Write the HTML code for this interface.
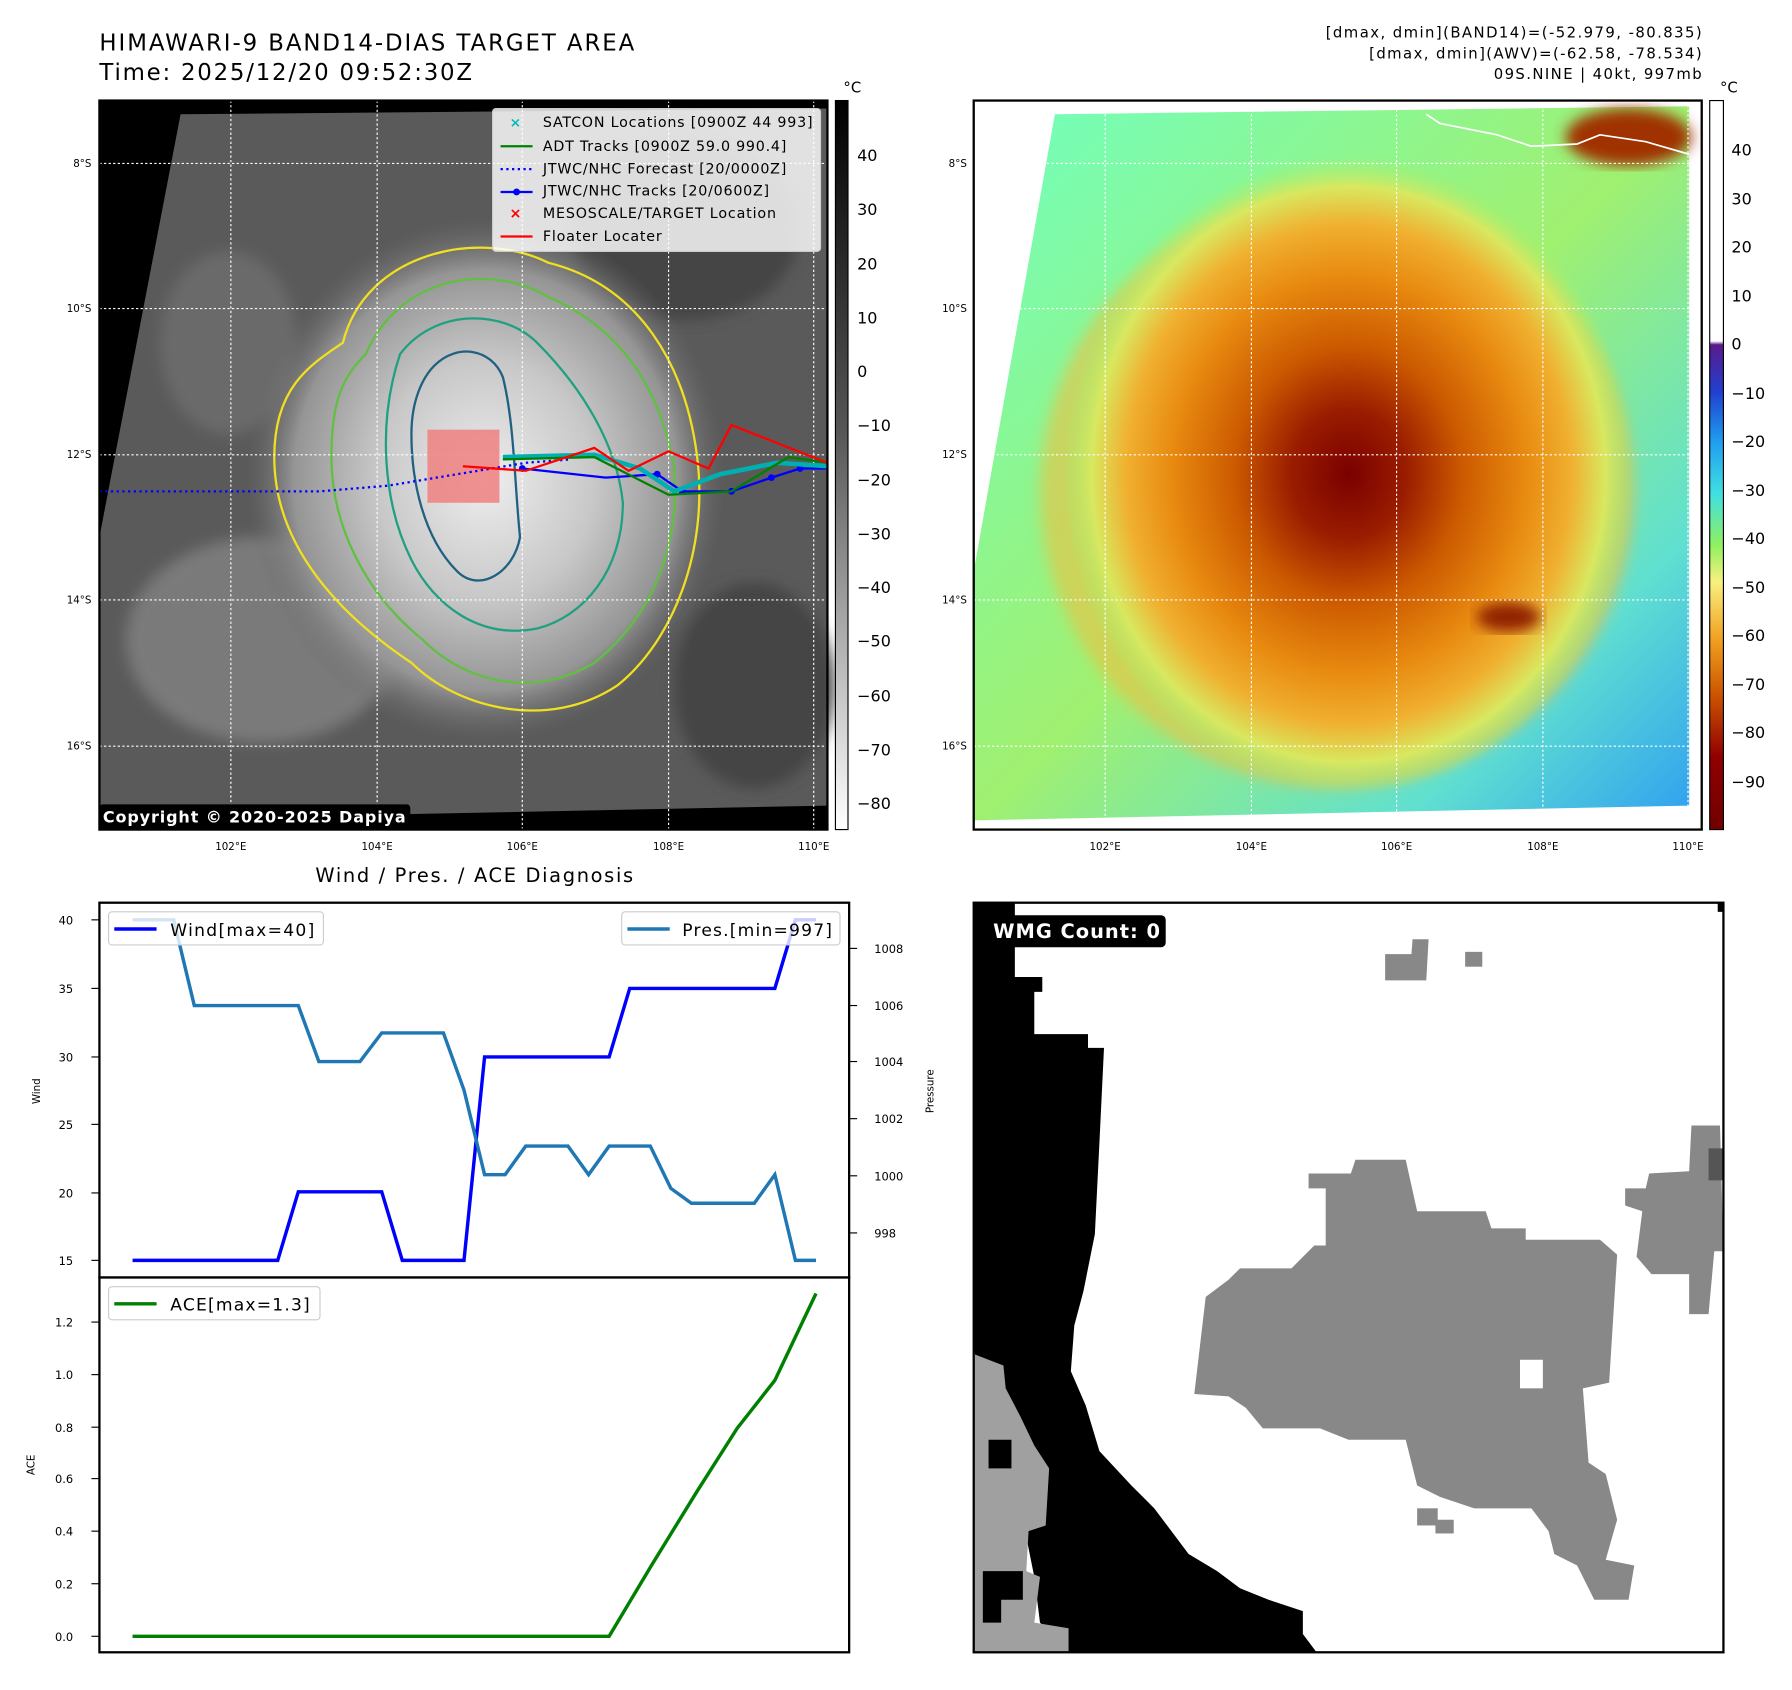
<!DOCTYPE html>
<html><head><meta charset="utf-8"><style>
html,body{margin:0;padding:0;background:#fff;}
svg{display:block;font-family:"DejaVu Sans","Liberation Sans",sans-serif;}
</style></head><body>
<svg width="1792" height="1690" viewBox="0 0 1568 1479" preserveAspectRatio="none" xmlns="http://www.w3.org/2000/svg">
<defs>
<radialGradient id="gcore" cx="0.5" cy="0.5" r="0.5">
<stop offset="0" stop-color="#eeeeee"/><stop offset="0.45" stop-color="#c8c8c8"/><stop offset="0.8" stop-color="#959595"/><stop offset="1" stop-color="#6a6a6a" stop-opacity="0"/>
</radialGradient>
<radialGradient id="ccore" cx="0.5" cy="0.5" r="0.5">
<stop offset="0" stop-color="#7a0000"/><stop offset="0.2" stop-color="#9a1c00"/><stop offset="0.4" stop-color="#cc5a00"/><stop offset="0.62" stop-color="#e88a10"/><stop offset="0.78" stop-color="#f0b030"/><stop offset="0.9" stop-color="#d8e860"/><stop offset="1" stop-color="#a0f070" stop-opacity="0"/>
</radialGradient>
<linearGradient id="bgcol" x1="0" y1="0" x2="1" y2="1">
<stop offset="0" stop-color="#70ffc0"/><stop offset="0.5" stop-color="#a0f070"/><stop offset="0.8" stop-color="#60e0d0"/><stop offset="1" stop-color="#30a0f0"/>
</linearGradient>
<linearGradient id="cbl" x1="0" y1="0" x2="0" y2="1">
<stop offset="0" stop-color="#000"/><stop offset="0.45" stop-color="#555"/><stop offset="1" stop-color="#fff"/>
</linearGradient>
<linearGradient id="cbr" x1="0" y1="0" x2="0" y2="1">
<stop offset="0" stop-color="#fff"/><stop offset="0.33" stop-color="#fff"/><stop offset="0.335" stop-color="#5a1a8a"/><stop offset="0.4" stop-color="#2040d0"/><stop offset="0.47" stop-color="#20a0f0"/><stop offset="0.54" stop-color="#40e0e0"/><stop offset="0.61" stop-color="#90f060"/><stop offset="0.66" stop-color="#f8f080"/><stop offset="0.74" stop-color="#f0a020"/><stop offset="0.82" stop-color="#c85000"/><stop offset="0.9" stop-color="#900000"/><stop offset="1" stop-color="#700000"/>
</linearGradient>
<filter id="blur"><feGaussianBlur stdDeviation="6"/></filter>
</defs>

<text x="87" y="44" font-size="20" textLength="468">HIMAWARI-9 BAND14-DIAS TARGET AREA</text>
<text x="87" y="70" font-size="20" textLength="326">Time: 2025/12/20 09:52:30Z</text>
<text x="1489" y="33" font-size="13" text-anchor="end" textLength="329">[dmax, dmin](BAND14)=(-52.979, -80.835)</text>
<text x="1489" y="51" font-size="13" text-anchor="end" textLength="291">[dmax, dmin](AWV)=(-62.58, -78.534)</text>
<text x="1489" y="69" font-size="13" text-anchor="end" textLength="182">09S.NINE | 40kt, 997mb</text>

<!-- LEFT MAP -->
<rect x="87" y="88" width="637" height="638" fill="#000"/>
<polygon points="158,100 724,95 724,705 87,718 87,470" fill="#5a5a5a"/>
<g filter="url(#blur)">
<ellipse cx="230" cy="560" rx="120" ry="90" fill="#7a7a7a"/>
<ellipse cx="600" cy="200" rx="100" ry="80" fill="#444"/>
<ellipse cx="200" cy="300" rx="60" ry="80" fill="#6a6a6a"/>
<ellipse cx="660" cy="600" rx="70" ry="90" fill="#444"/>
</g>
<ellipse cx="425" cy="420" rx="210" ry="230" fill="url(#gcore)"/>
<path d="M300,300 C320,220 420,200 480,230 C560,250 600,320 610,400 C620,480 590,560 540,600 C480,640 400,620 360,580 C300,540 240,480 240,400 C240,340 270,320 300,300Z" fill="none" stroke="#f0e020" stroke-width="2"/>
<path d="M320,310 C350,240 430,230 480,260 C550,290 580,350 590,410 C595,480 570,540 520,580 C470,610 410,600 370,560 C320,520 290,460 290,400 C290,350 300,330 320,310Z" fill="none" stroke="#60c040" stroke-width="2"/>
<path d="M350,310 C380,270 440,270 470,300 C510,340 540,390 545,440 C545,500 510,540 470,550 C420,560 380,530 360,490 C335,440 330,370 350,310Z" fill="none" stroke="#20a080" stroke-width="2"/>
<path d="M380,320 C400,300 430,305 440,330 C450,370 450,420 455,470 C450,500 420,520 400,500 C370,470 360,420 360,380 C360,350 370,330 380,320Z" fill="none" stroke="#206080" stroke-width="2"/>
<g stroke="#fff" stroke-width="1" stroke-dasharray="2,2">
<line x1="87" y1="143" x2="724" y2="143"/><line x1="87" y1="270" x2="724" y2="270"/><line x1="87" y1="398" x2="724" y2="398"/><line x1="87" y1="525" x2="724" y2="525"/><line x1="87" y1="653" x2="724" y2="653"/>
<line x1="202" y1="88" x2="202" y2="726"/><line x1="330" y1="88" x2="330" y2="726"/><line x1="457" y1="88" x2="457" y2="726"/><line x1="585" y1="88" x2="585" y2="726"/><line x1="712" y1="88" x2="712" y2="726"/>
</g>
<rect x="374" y="376" width="63" height="64" fill="#f08080" fill-opacity="0.85"/>
<polyline points="87,430 280,430 340,425 400,415 460,405 500,402" fill="none" stroke="#0000ff" stroke-width="2" stroke-dasharray="2,3"/>
<polyline points="457,410 530,418 575,415 597,430 640,430 675,418 700,410 724,410" fill="none" stroke="#0000ff" stroke-width="2"/>
<g fill="#0000ff"><circle cx="457" cy="410" r="3"/><circle cx="575" cy="415" r="3"/><circle cx="597" cy="430" r="3"/><circle cx="640" cy="430" r="3"/><circle cx="675" cy="418" r="3"/><circle cx="700" cy="410" r="3"/></g>
<polyline points="440,400 520,398 560,410 590,430 630,415 680,405 724,408" fill="none" stroke="#00b0b0" stroke-width="4"/>
<polyline points="440,402 520,400 585,433 640,430 690,400 724,405 M480,438 600,435 640,372 724,400" fill="none" stroke="#008000" stroke-width="2"/>
<polyline points="405,408 460,412 520,392 550,412 585,395 620,410 640,372 724,405 M490,430 560,418 610,438 490,430" fill="none" stroke="#ff0000" stroke-width="2"/>
<rect x="431" y="95" width="287" height="125" rx="3" fill="#fff" fill-opacity="0.82" stroke="#ccc"/>
<g font-size="12.5">
<text x="451" y="111" fill="#0bb" font-weight="bold" text-anchor="middle" font-size="12">×</text><text x="475" y="111" textLength="236">SATCON Locations [0900Z 44 993]</text>
<line x1="438" y1="128" x2="466" y2="128" stroke="#008000" stroke-width="2"/><text x="475" y="132" textLength="213">ADT Tracks [0900Z 59.0 990.4]</text>
<line x1="438" y1="148" x2="466" y2="148" stroke="#00f" stroke-width="2" stroke-dasharray="2,3"/><text x="475" y="152" textLength="213">JTWC/NHC Forecast [20/0000Z]</text>
<line x1="438" y1="168" x2="466" y2="168" stroke="#00f" stroke-width="2"/><circle cx="452" cy="168" r="3" fill="#00f"/><text x="475" y="171" textLength="198">JTWC/NHC Tracks [20/0600Z]</text>
<text x="451" y="191" fill="#f00" font-weight="bold" text-anchor="middle">×</text><text x="475" y="191" textLength="204">MESOSCALE/TARGET Location</text>
<line x1="438" y1="207" x2="466" y2="207" stroke="#f00" stroke-width="2"/><text x="475" y="211" textLength="104">Floater Locater</text>
</g>
<rect x="87" y="704" width="272" height="22" rx="3" fill="#000"/>
<text x="90" y="720" fill="#fff" font-size="14" font-weight="bold" textLength="265">Copyright © 2020-2025 Dapiya</text>
<rect x="87" y="88" width="637" height="638" fill="none" stroke="#000" stroke-width="2"/>
<g font-size="9" text-anchor="end">
<text x="80" y="146">8°S</text><text x="80" y="273">10°S</text><text x="80" y="401">12°S</text><text x="80" y="528">14°S</text><text x="80" y="656">16°S</text>
<text x="846" y="146">8°S</text><text x="846" y="273">10°S</text><text x="846" y="401">12°S</text><text x="846" y="528">14°S</text><text x="846" y="656">16°S</text>
</g>
<g font-size="9" text-anchor="middle">
<text x="202" y="744">102°E</text><text x="330" y="744">104°E</text><text x="457" y="744">106°E</text><text x="585" y="744">108°E</text><text x="712" y="744">110°E</text>
<text x="967" y="744">102°E</text><text x="1095" y="744">104°E</text><text x="1222" y="744">106°E</text><text x="1350" y="744">108°E</text><text x="1477" y="744">110°E</text>
</g>
<rect x="731" y="88" width="11" height="638" fill="url(#cbl)" stroke="#000"/>
<text x="738" y="81" font-size="13">°C</text>
<g font-size="14"><text x="750" y="141">40</text><text x="750" y="188">30</text><text x="750" y="236">20</text><text x="750" y="283">10</text><text x="750" y="330">0</text><text x="750" y="377">−10</text><text x="750" y="425">−20</text><text x="750" y="472">−30</text><text x="750" y="519">−40</text><text x="750" y="566">−50</text><text x="750" y="614">−60</text><text x="750" y="661">−70</text><text x="750" y="708">−80</text></g>

<!-- RIGHT MAP -->
<rect x="852" y="88" width="637" height="638" fill="#fff"/>
<polygon points="923,100 1478,93 1478,705 852,718 852,500" fill="url(#bgcol)"/>
<g filter="url(#blur)">
<ellipse cx="1170" cy="430" rx="260" ry="260" fill="#f0c040" fill-opacity="0.6"/>
</g>
<ellipse cx="1180" cy="415" rx="250" ry="280" fill="url(#ccore)"/>
<ellipse cx="1425" cy="120" rx="55" ry="25" fill="#a03000" filter="url(#blur)"/>
<ellipse cx="1320" cy="540" rx="28" ry="13" fill="#902000" filter="url(#blur)"/>
<polyline points="1248,100 1260,108 1310,118 1340,128 1380,126 1400,118 1440,124 1478,135" fill="none" stroke="#fff" stroke-width="1.5"/>
<g stroke="#fff" stroke-width="1" stroke-dasharray="2,2">
<line x1="852" y1="143" x2="1489" y2="143"/><line x1="852" y1="270" x2="1489" y2="270"/><line x1="852" y1="398" x2="1489" y2="398"/><line x1="852" y1="525" x2="1489" y2="525"/><line x1="852" y1="653" x2="1489" y2="653"/>
<line x1="967" y1="88" x2="967" y2="726"/><line x1="1095" y1="88" x2="1095" y2="726"/><line x1="1222" y1="88" x2="1222" y2="726"/><line x1="1350" y1="88" x2="1350" y2="726"/><line x1="1477" y1="88" x2="1477" y2="726"/>
</g>
<rect x="852" y="88" width="637" height="638" fill="none" stroke="#000" stroke-width="2"/>
<rect x="1496" y="88" width="12" height="638" fill="url(#cbr)" stroke="#000"/>
<text x="1505" y="81" font-size="13">°C</text>
<g font-size="14"><text x="1515" y="136">40</text><text x="1515" y="179">30</text><text x="1515" y="221">20</text><text x="1515" y="264">10</text><text x="1515" y="306">0</text><text x="1515" y="349">−10</text><text x="1515" y="391">−20</text><text x="1515" y="434">−30</text><text x="1515" y="476">−40</text><text x="1515" y="519">−50</text><text x="1515" y="561">−60</text><text x="1515" y="604">−70</text><text x="1515" y="646">−80</text><text x="1515" y="689">−90</text></g>

<!-- BOTTOM LEFT -->
<text x="415" y="772" font-size="17" text-anchor="middle" textLength="278">Wind / Pres. / ACE Diagnosis</text>
<rect x="87" y="790" width="656" height="328" fill="#fff" stroke="#000" stroke-width="2"/>
<rect x="87" y="1118" width="656" height="328" fill="#fff" stroke="#000" stroke-width="2"/>
<g font-size="10" text-anchor="end">
<text x="64" y="809">40</text><text x="64" y="869">35</text><text x="64" y="929">30</text><text x="64" y="988">25</text><text x="64" y="1048">20</text><text x="64" y="1107">15</text>
<text x="64" y="1161">1.2</text><text x="64" y="1207">1.0</text><text x="64" y="1253">0.8</text><text x="64" y="1298">0.6</text><text x="64" y="1344">0.4</text><text x="64" y="1390">0.2</text><text x="64" y="1436">0.0</text>
</g>
<g stroke="#000"><line x1="80" y1="805" x2="87" y2="805"/><line x1="80" y1="865" x2="87" y2="865"/><line x1="80" y1="925" x2="87" y2="925"/><line x1="80" y1="984" x2="87" y2="984"/><line x1="80" y1="1044" x2="87" y2="1044"/><line x1="80" y1="1103" x2="87" y2="1103"/>
<line x1="80" y1="1157" x2="87" y2="1157"/><line x1="80" y1="1203" x2="87" y2="1203"/><line x1="80" y1="1249" x2="87" y2="1249"/><line x1="80" y1="1294" x2="87" y2="1294"/><line x1="80" y1="1340" x2="87" y2="1340"/><line x1="80" y1="1386" x2="87" y2="1386"/><line x1="80" y1="1432" x2="87" y2="1432"/>
<line x1="743" y1="830" x2="750" y2="830"/><line x1="743" y1="880" x2="750" y2="880"/><line x1="743" y1="929" x2="750" y2="929"/><line x1="743" y1="979" x2="750" y2="979"/><line x1="743" y1="1029" x2="750" y2="1029"/><line x1="743" y1="1079" x2="750" y2="1079"/></g>
<g font-size="10"><text x="765" y="834">1008</text><text x="765" y="884">1006</text><text x="765" y="933">1004</text><text x="765" y="983">1002</text><text x="765" y="1033">1000</text><text x="765" y="1083">998</text></g>
<text transform="translate(35,955) rotate(-90)" font-size="9" text-anchor="middle">Wind</text>
<text transform="translate(30,1282) rotate(-90)" font-size="9" text-anchor="middle">ACE</text>
<text transform="translate(817,955) rotate(-90)" font-size="9" text-anchor="middle">Pressure</text>
<polyline points="116,1103 243,1103 261,1043 334,1043 352,1103 406,1103 424,925 533,925 551,865 678,865 696,805 714,805" fill="none" stroke="#0000ff" stroke-width="3"/>
<polyline points="116,805 152,805 170,880 261,880 279,929 315,929 334,904 388,904 406,954 424,1028 442,1028 460,1003 497,1003 515,1028 533,1003 569,1003 587,1040 605,1053 660,1053 678,1028 696,1103 714,1103" fill="none" stroke="#1f77b4" stroke-width="3"/>
<polyline points="116,1432 533,1432 570,1370 610,1305 645,1250 678,1208 696,1170 714,1132" fill="none" stroke="#008000" stroke-width="3"/>
<rect x="95" y="798" width="188" height="29" rx="3" fill="#fff" fill-opacity="0.8" stroke="#ccc"/>
<line x1="100" y1="813" x2="137" y2="813" stroke="#00f" stroke-width="3"/><text x="149" y="819" font-size="15" textLength="126">Wind[max=40]</text>
<rect x="544" y="798" width="191" height="29" rx="3" fill="#fff" fill-opacity="0.8" stroke="#ccc"/>
<line x1="549" y1="813" x2="586" y2="813" stroke="#1f77b4" stroke-width="3"/><text x="597" y="819" font-size="15" textLength="131">Pres.[min=997]</text>
<rect x="95" y="1126" width="185" height="29" rx="3" fill="#fff" fill-opacity="0.8" stroke="#ccc"/>
<line x1="100" y1="1141" x2="137" y2="1141" stroke="#008000" stroke-width="3"/><text x="149" y="1147" font-size="15" textLength="122">ACE[max=1.3]</text>

<!-- BOTTOM RIGHT -->
<rect x="852" y="790" width="656" height="656" fill="#fff"/>
<polygon points="852,790 888,790 888,855 912,855 912,868 905,868 905,905 952,905 952,917 966,917 962,1000 958,1080 948,1130 940,1160 937,1200 950,1230 962,1270 990,1300 1010,1320 1025,1340 1040,1360 1065,1375 1085,1390 1110,1400 1140,1410 1140,1430 1152,1446 935,1446 910,1420 905,1380 895,1330 880,1290 865,1240 852,1180" fill="#000"/>
<polygon points="852,1185 878,1195 880,1215 893,1240 905,1265 918,1285 915,1335 900,1340 898,1375 910,1380 905,1420 935,1425 935,1446 852,1446" fill="#a0a0a0"/>
<polygon points="865,1260 885,1260 885,1285 865,1285" fill="#000"/>
<polygon points="860,1375 895,1375 895,1400 876,1400 876,1420 860,1420" fill="#000"/>
<polygon points="1145,1027 1182,1027 1186,1015 1230,1015 1240,1060 1300,1060 1305,1075 1335,1075 1335,1085 1400,1085 1415,1098 1408,1210 1385,1215 1390,1280 1405,1290 1415,1330 1405,1365 1430,1370 1425,1400 1395,1400 1380,1370 1360,1360 1355,1340 1340,1320 1290,1320 1260,1310 1240,1300 1230,1260 1180,1260 1155,1250 1105,1250 1090,1232 1075,1222 1045,1220 1055,1135 1075,1120 1085,1110 1130,1110 1150,1090 1160,1090 1160,1040 1145,1040" fill="#888"/>
<rect x="1330" y="1190" width="20" height="25" fill="#fff"/>
<rect x="1240" y="1320" width="18" height="15" fill="#888"/><rect x="1256" y="1330" width="16" height="12" fill="#888"/>
<polygon points="1480,985 1505,985 1508,1095 1500,1095 1495,1150 1478,1150 1478,1115 1445,1115 1432,1100 1437,1060 1422,1055 1422,1040 1440,1040 1443,1027 1478,1025" fill="#888"/>
<rect x="1495" y="1005" width="13" height="28" fill="#555"/>
<polygon points="1212,835 1235,835 1236,822 1250,822 1248,858 1212,858" fill="#888"/>
<rect x="1282" y="833" width="15" height="13" fill="#888"/>
<rect x="1503" y="790" width="5" height="8" fill="#000"/>
<rect x="852" y="790" width="656" height="656" fill="none" stroke="#000" stroke-width="2"/>
<rect x="857" y="801" width="163" height="28" rx="4" fill="#000"/>
<text x="869" y="821" fill="#fff" font-size="17" font-weight="bold" textLength="146">WMG Count: 0</text>
</svg>
</body></html>
